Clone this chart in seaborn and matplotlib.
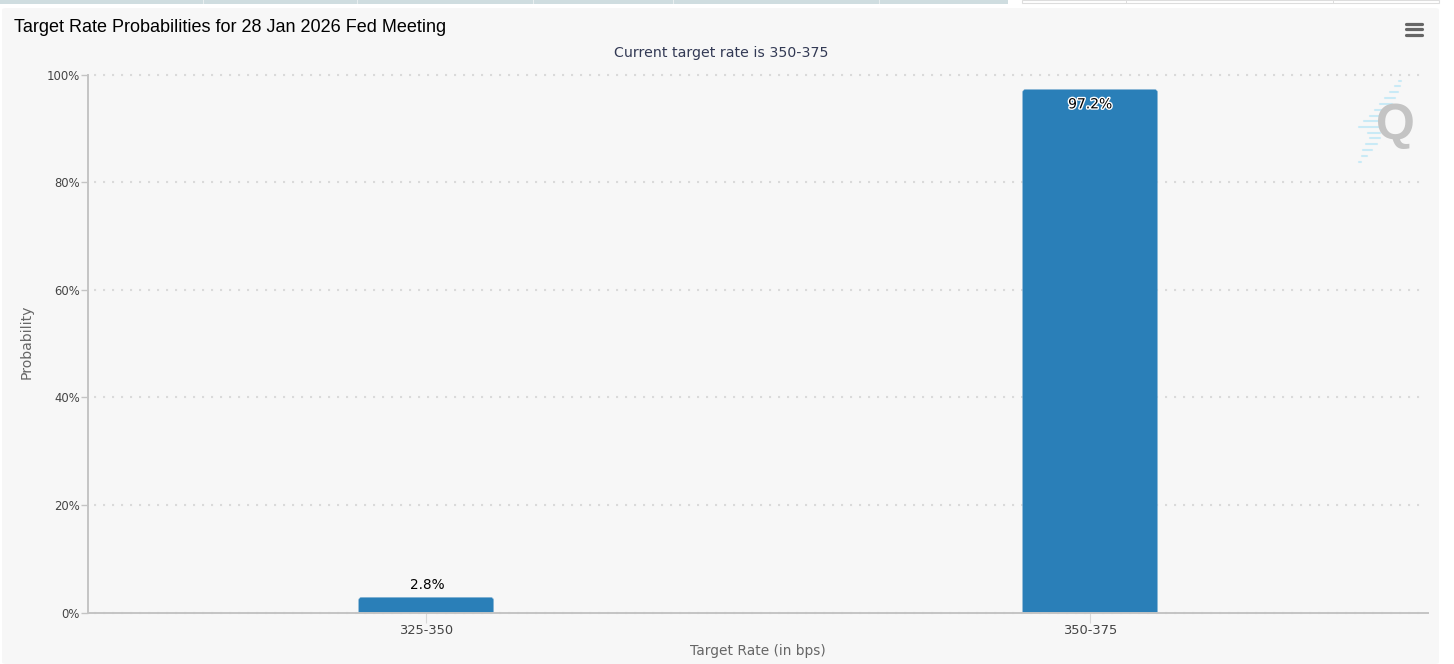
import matplotlib
matplotlib.use("Agg")
import matplotlib.pyplot as plt
import matplotlib.patheffects as pe
from matplotlib.patches import FancyBboxPatch, Rectangle
import pandas as pd
import seaborn as sns

# datos del grafico
rates = ["325-350", "350-375"]
probs = [2.8, 97.2]
y_ticks = [0, 20, 40, 60, 80, 100]

W, H = 1454, 664
LEFT, RIGHT, TOP, BOTTOM = 87.5, 1428, 74.5, 612.5

sns.set_theme(style="white")
plt.rcParams["font.family"] = ["DejaVu Sans"]


def fx(px):
    return px / W


def fy(py):
    return 1 - py / H


fig = plt.figure(figsize=(W / 100, H / 100), dpi=100, facecolor="white")

# panel gris y pestañas de arriba
fig.add_artist(FancyBboxPatch((fx(2), fy(664)), fx(1437), fy(8) - fy(664),
                              boxstyle="round,pad=0,rounding_size=0.003",
                              transform=fig.transFigure, fc="#f7f7f7", ec="none", zorder=-2))
fig.add_artist(Rectangle((0, fy(4)), fx(1008), fy(0) - fy(4), transform=fig.transFigure,
                         fc="#cfdde0", ec="none", zorder=-2))
for px in [203, 357, 533, 673, 879]:
    fig.add_artist(Rectangle((fx(px), fy(4)), fx(1), fy(0) - fy(4),
                             transform=fig.transFigure, fc="#e8eeef", ec="none", zorder=-1))
fig.add_artist(Rectangle((fx(1022), fy(3)), fx(417), fy(0) - fy(3), transform=fig.transFigure,
                         fc="white", ec="#dddddd", lw=0.8, zorder=-2))
for px in [1126, 1333]:
    fig.add_artist(Rectangle((fx(px), fy(3)), fx(1), fy(0) - fy(3),
                             transform=fig.transFigure, fc="#dddddd", ec="none", zorder=-1))

ax = fig.add_axes([fx(LEFT), fy(BOTTOM), fx(RIGHT - LEFT), fy(TOP) - fy(BOTTOM)])
ax.set_facecolor("none")

df = pd.DataFrame({"rate": rates, "prob": probs})
sns.barplot(data=df, x="rate", y="prob", color="#2a7fb8", saturation=1, width=0.203, ax=ax)

ax.set_xlim(-0.51, 1.509)
ax.set_ylim(0, 100)

# esquinas redondeadas solo arriba: la base queda recortada por el eje
aspect = 664 / ((BOTTOM - TOP) / 100)
for bar in list(ax.patches):
    x0, w, h = bar.get_x(), bar.get_width(), bar.get_height()
    bar.remove()
    ax.add_patch(FancyBboxPatch((x0, -2), w, h + 2,
                                boxstyle="round,pad=0,rounding_size=0.0042",
                                mutation_aspect=aspect, fc="#2a7fb8", ec="#7fb0d2",
                                lw=0.4, zorder=3, clip_on=True))

# grid punteado
ax.set_yticks(y_ticks)
ax.set_yticklabels([f"{t}%" for t in y_ticks])
for t in y_ticks:
    ax.plot([-0.5, 1.5], [t, t], color="#dadada", lw=1.5, ls=(0, (1, 3.32)),
            zorder=1, clip_on=False)

sns.despine(ax=ax)
for side in ["left", "bottom"]:
    ax.spines[side].set_color("#c4c4c4")
    ax.spines[side].set_linewidth(1.4)
ax.spines["bottom"].set_zorder(4)

ax.tick_params(axis="y", left=True, length=5, width=1, color="#c4c4c4",
               labelsize=8.4, labelcolor="#444444", pad=0.5)
ax.tick_params(axis="x", bottom=True, length=7, width=0.8, color="#d8d8d8",
               labelsize=9.4, labelcolor="#444444", pad=1.2)

ax.set_xlabel("Target Rate (in bps)", fontsize=9.95, color="#666666", labelpad=5)
ax.set_ylabel("Probability", fontsize=10.1, color="#666666", labelpad=9, y=0.503)

# etiquetas de valores
ax.annotate(f"{probs[0]}%", (0, probs[0]), xytext=(0.7, 3.8), textcoords="offset points",
            ha="center", va="bottom", fontsize=9.8, color="black", zorder=5)
ax.annotate(f"{probs[1]}%", (1, probs[1]), xytext=(0, -5.6), textcoords="offset points",
            ha="center", va="top", fontsize=10, color="black", zorder=5,
            path_effects=[pe.withStroke(linewidth=2, foreground="white")])

# titulos
fig.text(fx(14), fy(27.5), "Target Rate Probabilities for 28 Jan 2026 Fed Meeting",
         family="Liberation Sans", fontsize=12.93, color="black", ha="left", va="center")
fig.text(fx(721), fy(53), "Current target rate is 350-375", fontsize=10.2, color="#333a55",
         ha="center", va="center")

# menu (tres rayas)
for py in [23.5, 29, 34.5]:
    fig.add_artist(plt.Line2D([fx(1406), fx(1421.5)], [fy(py), fy(py)], color="#666666",
                              lw=2.3, solid_capstyle="round", transform=fig.transFigure))

# logo
stripes = [(1399, 1401, 81), (1395, 1400, 86), (1390, 1398, 92), (1385, 1395, 98),
           (1380, 1392, 104), (1375, 1384, 110), (1370, 1380, 116), (1364, 1380, 121),
           (1359, 1380, 127), (1368, 1380, 133), (1370, 1380, 138), (1366, 1377, 144),
           (1363, 1372, 150), (1362, 1367, 156), (1359, 1361, 162)]
for x0, x1, py in stripes:
    fig.add_artist(plt.Line2D([fx(x0), fx(x1)], [fy(py), fy(py)], color="#c9eaf6",
                              lw=1.5, transform=fig.transFigure))
fig.text(fx(1395.5), fy(126), "Q", family="Liberation Sans", fontweight="bold", fontsize=36,
         color="#c4c4c4", ha="center", va="center")

fig.savefig("out.png", dpi=100, facecolor="white")
